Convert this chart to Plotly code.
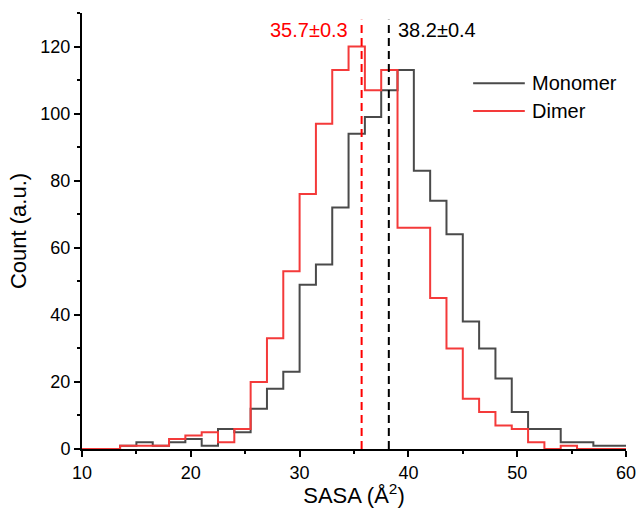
import numpy as np
import plotly.graph_objects as go

# Histogram bins (width 1.5 Å²), left edges from 10.5 to 58.5, closing at 60
bin_edges = np.arange(10.5, 60.01, 1.5)

monomer_counts = [0, 0, 1, 2, 1, 2, 3, 1, 6, 5, 12, 18, 23, 49, 55, 72, 94,
                  99, 107, 113, 83, 74, 64, 38, 30, 21, 11, 6, 6, 2, 2, 1, 1]
dimer_counts = [0, 0, 1, 1, 1, 3, 4, 5, 2, 6, 20, 33, 53, 76, 97, 113, 120,
                107, 113, 66, 66, 45, 30, 15, 11, 7, 6, 2, 0, 1, 0, 0, 0]

# Mean SASA values with uncertainty
monomer_mean, monomer_err = 38.2, 0.4
dimer_mean, dimer_err = 35.7, 0.3

series_names = ["Monomer", "Dimer"]

x_ticks = [10, 20, 30, 40, 50, 60]
y_ticks = [0, 20, 40, 60, 80, 100, 120]

GREY = "#4a4a4a"
RED = "#f43a3a"
FONT = "Liberation Sans, Arial, sans-serif"


def step_xy(counts):
    xs = [10.0] + list(bin_edges)
    ys = [0] + list(counts) + [counts[-1]]
    return xs, ys


fig = go.Figure()
for name, counts, color in [(series_names[0], monomer_counts, GREY),
                            (series_names[1], dimer_counts, RED)]:
    xs, ys = step_xy(counts)
    fig.add_trace(go.Scatter(x=xs, y=ys, mode="lines", name=name,
                             showlegend=False,
                             line=dict(color=color, width=2, shape="hv")))

# Dashed markers at the mean values
for mean, color in [(dimer_mean, "#ff0000"), (monomer_mean, "#000000")]:
    fig.add_shape(type="line", xref="x", yref="y", x0=mean, x1=mean,
                  y0=0, y1=128, line=dict(color=color, width=2, dash="8px,5px"))

fig.add_annotation(x=dimer_mean, y=124.8, xref="x", yref="y",
                   text=f"{dimer_mean}±{dimer_err}", showarrow=False,
                   xanchor="right", xshift=-12,
                   font=dict(family=FONT, size=20, color="#ff0000"))
fig.add_annotation(x=monomer_mean, y=124.8, xref="x", yref="y",
                   text=f"{monomer_mean}±{monomer_err}", showarrow=False,
                   xanchor="left", xshift=7,
                   font=dict(family=FONT, size=20, color="#000000"))

# Legend: line samples with labels, placed in the upper right of the plot area
legend_rows = [(series_names[0], GREY, 0.839), (series_names[1], RED, 0.775)]
for label, color, yp in legend_rows:
    fig.add_shape(type="line", xref="paper", yref="paper",
                  x0=0.719, x1=0.814, y0=yp, y1=yp,
                  line=dict(color=color, width=2))
    fig.add_annotation(x=0.824, y=yp, xref="paper", yref="paper",
                       text=label, showarrow=False, xanchor="left",
                       yanchor="middle",
                       font=dict(family=FONT, size=20, color="black"))

axis_common = dict(showline=True, linecolor="black", linewidth=2,
                   ticks="outside", ticklen=6, tickwidth=1.5, tickcolor="black",
                   showgrid=False, zeroline=False, automargin=False,
                   ticklabeloverflow="allow",
                   tickfont=dict(family=FONT, size=18, color="black"),
                   title_font=dict(family=FONT, size=22, color="black"))

fig.update_xaxes(range=[10, 60.0001], tickvals=x_ticks,
                 minor=dict(ticks="outside", ticklen=3, tickwidth=1.5,
                            tickcolor="black", dtick=5, tick0=5),
                 title=dict(text="SASA (Å<sup>2</sup>)", standoff=5),
                 **axis_common)
fig.update_yaxes(range=[0, 130], tickvals=y_ticks,
                 minor=dict(ticks="outside", ticklen=3, tickwidth=1.5,
                            tickcolor="black", dtick=10, tick0=10),
                 title=dict(text="Count (a.u.)", standoff=8),
                 **axis_common)

fig.update_layout(
    width=636, height=508,
    margin=dict(l=82, r=10, t=13, b=59),
    plot_bgcolor="white", paper_bgcolor="white",
    font=dict(family=FONT, color="black"),
    showlegend=False,
)

fig.write_html("out.html")
